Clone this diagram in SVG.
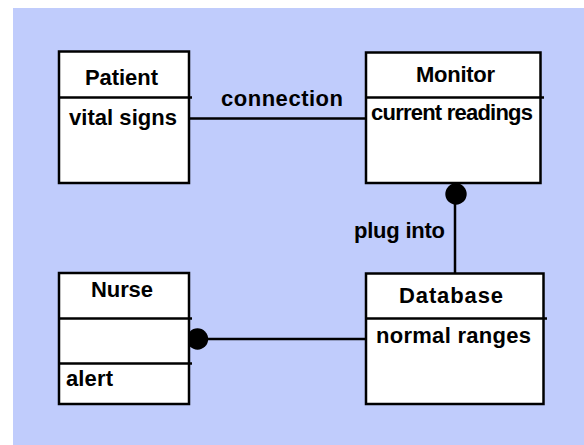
<svg xmlns="http://www.w3.org/2000/svg" width="584" height="445" viewBox="0 0 584 445">
<style>
.box{fill:#fff;stroke:#000;stroke-width:2.5}
.div{stroke:#000;stroke-width:2.5}
.con{stroke:#000;stroke-width:2.5;fill:none}
.dot{fill:#000}
text{font-family:"Liberation Sans",Arial,sans-serif;font-weight:bold;font-size:22px;fill:#000}
</style>
<rect x="13" y="8" width="571" height="437" fill="#c0ccfc"/>
<g id="connectors">
<line class="con" x1="189" y1="118.5" x2="371" y2="118.5"/>
<text x="221" y="106" textLength="122">connection</text>
<line class="con" x1="455" y1="190" x2="455" y2="273"/>
<circle class="dot" cx="456" cy="194" r="10.7"/>
<text x="354" y="238" textLength="91">plug into</text>
<line class="con" x1="197" y1="339" x2="369" y2="339"/>
<circle class="dot" cx="197.5" cy="339" r="10.7"/>
</g>
<g id="patient">
<rect class="box" x="59" y="51.5" width="130" height="131.5"/>
<line class="div" x1="58" y1="97.5" x2="192" y2="97.5"/>
<text x="85" y="85" textLength="73">Patient</text>
<text x="69" y="125" textLength="108">vital signs</text>
</g>
<g id="monitor">
<rect class="box" x="366" y="52.5" width="174.5" height="130.5"/>
<line class="div" x1="365" y1="97.5" x2="544" y2="97.5"/>
<text x="416" y="82" textLength="79">Monitor</text>
<text x="371" y="120" textLength="162">current readings</text>
</g>
<g id="nurse">
<rect class="box" x="59" y="273" width="130" height="131"/>
<line class="div" x1="58" y1="318.5" x2="192" y2="318.5"/>
<line class="div" x1="58" y1="363.5" x2="192" y2="363.5"/>
<text x="91" y="297" textLength="62">Nurse</text>
<text x="66" y="386" textLength="47">alert</text>
</g>
<g id="database">
<rect class="box" x="366" y="273.5" width="177.5" height="130.5"/>
<line class="div" x1="365" y1="318.5" x2="547" y2="318.5"/>
<text x="399" y="303" textLength="104">Database</text>
<text x="376" y="343" textLength="155">normal ranges</text>
</g>
</svg>
